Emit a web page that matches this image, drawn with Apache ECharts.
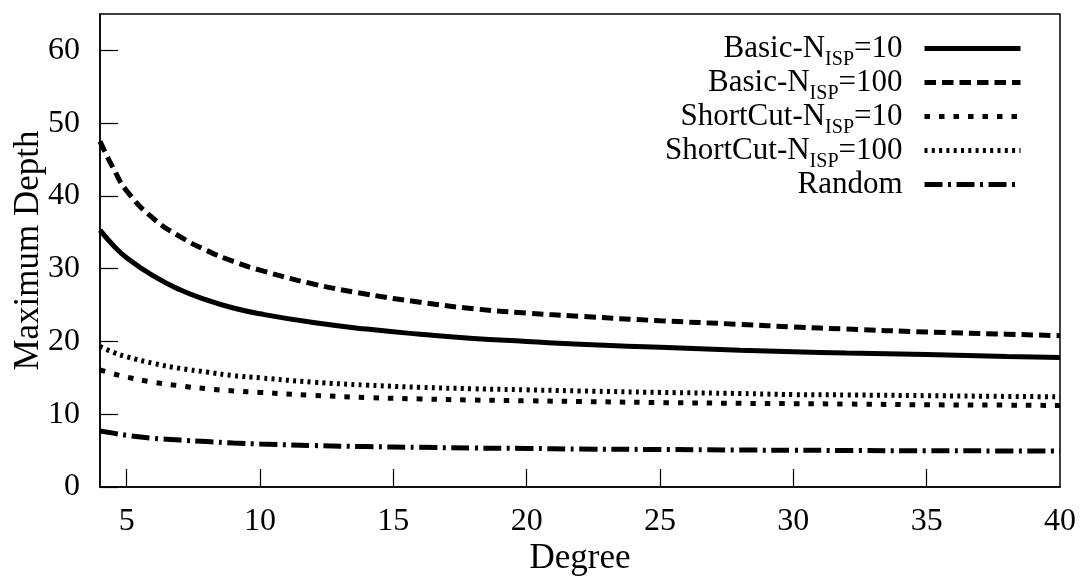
<!DOCTYPE html>
<html><head><meta charset="utf-8">
<script src="https://cdn.jsdelivr.net/npm/echarts@6/dist/echarts.min.js"></script>
<style>html,body{margin:0;padding:0;background:#fff}#c{width:1084px;height:581px}</style>
</head><body><div id="c"></div>
<script>
const degrees = [4,4.5,5,6,7,8,9,10,12,14,16,18,20,22,25,28,30,32,35,38,40];
const basic10 = [35.3,33.2,31.5,29.0,27.1,25.7,24.6,23.8,22.6,21.7,21.0,20.4,20.0,19.6,19.2,18.8,18.6,18.4,18.2,17.95,17.8];
const basic100 = [47.5,43.8,40.7,36.9,34.4,32.5,31.0,29.8,27.9,26.5,25.4,24.5,23.9,23.45,22.85,22.35,22.0,21.7,21.3,21.0,20.8];
const shortcut10 = [16.1,15.55,15.1,14.4,13.9,13.5,13.2,13.0,12.6,12.3,12.1,11.95,11.85,11.75,11.6,11.5,11.45,11.4,11.3,11.25,11.2];
const shortcut100 = [19.3,18.5,17.9,17.0,16.3,15.8,15.3,15.0,14.4,14.0,13.7,13.5,13.35,13.2,13.0,12.85,12.7,12.65,12.55,12.45,12.4];
const randomDepth = [7.7,7.4,7.1,6.7,6.45,6.25,6.05,5.9,5.7,5.55,5.45,5.35,5.3,5.22,5.15,5.08,5.05,5.02,4.98,4.96,4.95];
const xLabelValues = [5,10,15,20,25,30,35,40];
const xTickValues = [5,10,15,20,25,30,35];
const seriesNames = ['Basic-10','Basic-100','ShortCut-10','ShortCut-100','Random'];
const legendRich = {
  'Basic-10': '{n|Basic-N}{s|ISP}{n|=10}{g| }',
  'Basic-100': '{n|Basic-N}{s|ISP}{n|=100}{g| }',
  'ShortCut-10': '{n|ShortCut-N}{s|ISP}{n|=10}{g| }',
  'ShortCut-100': '{n|ShortCut-N}{s|ISP}{n|=100}{g| }',
  'Random': '{n|Random}{g| }'
};
const seriesData = [basic10, basic100, shortcut10, shortcut100, randomDepth];
const dashTypes = ['solid', [11.5,6], [5.5,9], [3,4.3], [18,5.5,3,5.5]];

const font = 'Liberation Serif';
const chart = echarts.init(document.getElementById('c'));
const legends = seriesNames.map((n, i) => ({
  data: [n],
  right: 61,
  top: 33 + i * 34,
  padding: 0,
  align: 'right',
  itemWidth: 96,
  itemHeight: 14,
  selectedMode: false,
  itemStyle: {opacity: 0},
  lineStyle: {width: 5, color: '#000'},
  formatter: (name) => legendRich[name],
  textStyle: {
    fontFamily: font,
    rich: {
      n: {fontSize: 31, fontFamily: font, color: '#000', verticalAlign: 'middle', lineHeight: 44},
      s: {fontSize: 20, fontFamily: font, color: '#000', verticalAlign: 'middle', padding: [22, 0, 0, 0]},
      g: {width: 17, fontSize: 10}
    }
  }
}));

chart.setOption({
  animation: false,
  backgroundColor: '#fff',
  grid: {left: 100, top: 14, right: 24, bottom: 94, show: true, borderColor: '#000', borderWidth: 1.5, backgroundColor: 'transparent', containLabel: false, outerBoundsMode: 'none'},
  legend: legends,
  xAxis: {
    type: 'value', min: 4, max: 40,
    name: 'Degree', nameLocation: 'middle', nameGap: 54, nameMoveOverlap: false,
    nameTextStyle: {fontFamily: font, fontSize: 35, color: '#000'},
    axisLine: {lineStyle: {color: '#000', width: 1.5}},
    axisTick: {inside: true, length: 18, customValues: xTickValues, lineStyle: {color: '#000', width: 1.2}},
    axisLabel: {customValues: xLabelValues, fontFamily: font, fontSize: 32, color: '#000', margin: 19},
    splitLine: {show: false}
  },
  yAxis: {
    type: 'value', min: 0, max: 65, interval: 10,
    name: 'Maximum Depth', nameLocation: 'middle', nameGap: 54, nameMoveOverlap: false,
    nameTextStyle: {fontFamily: font, fontSize: 35, color: '#000'},
    axisLine: {lineStyle: {color: '#000', width: 1.5}},
    axisTick: {inside: true, length: 18, lineStyle: {color: '#000', width: 1.2}},
    axisLabel: {fontFamily: font, fontSize: 32, color: '#000', margin: 20, showMaxLabel: false},
    splitLine: {show: false}
  },
  series: seriesNames.map((n, i) => ({
    name: n, type: 'line', smooth: true, symbol: 'none',
    data: degrees.map((d, j) => [d, seriesData[i][j]]),
    lineStyle: {color: '#000', width: 5, type: dashTypes[i], cap: 'butt'},
    itemStyle: {color: '#000'}
  }))
});
</script></body></html>
